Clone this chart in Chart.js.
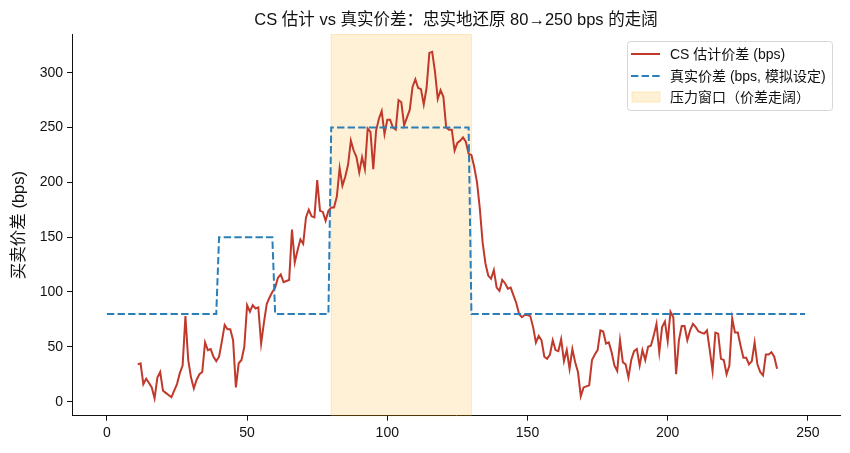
<!DOCTYPE html>
<html>
<head>
<meta charset="utf-8">
<script src="https://cdn.jsdelivr.net/npm/chart.js@4.4.1/dist/chart.umd.min.js"></script>
<style>
  html, body { margin: 0; padding: 0; background: #fff; }
  #wrap { width: 850px; height: 453px; }
</style>
</head>
<body>
<div id="wrap"><canvas id="chart" width="850" height="453"></canvas></div>
<script>
// CS estimate, one value per day starting at day 11
const csStart = 11;
const csValues = [
  34, 35, 16, 21, 17, 13, 3, 22, 27, 10,
  8, 6, 4, 10, 16, 26, 33, 78, 38, 22,
  12, 20, 25, 27, 54, 47, 48, 41, 37, 41,
  55, 70, 66, 66, 56, 13, 35, 38, 50, 88,
  82, 88, 85, 86, 53, 72, 89, 95, 100, 104,
  113, 116, 109, 110, 111, 157, 127, 138, 148, 144,
  168, 175, 169, 168, 202, 174, 173, 165, 174, 177,
  177, 187, 213, 197, 205, 216, 238, 229, 223, 209,
  223, 212, 249, 246, 212, 247, 258, 265, 244, 257,
  257, 250, 248, 275, 273, 252, 259, 266, 287, 294,
  286, 285, 271, 286, 318, 319, 301, 276, 284, 278,
  250, 248, 248, 229, 236, 238, 241, 237, 226, 225,
  214, 200, 176, 145, 126, 115, 112, 120, 104, 101,
  111, 108, 103, 104, 97, 90, 80, 77, 79, 79,
  78, 68, 54, 60, 56, 41, 39, 43, 56, 47,
  46, 57, 37, 47, 30, 48, 36, 27, 5, 13,
  14, 15, 38, 43, 47, 65, 64, 53, 54, 45,
  33, 28, 56, 36, 34, 22, 38, 46, 48, 33,
  47, 38, 50, 51, 60, 71, 45, 68, 73, 55,
  82, 77, 25, 56, 69, 69, 56, 65, 71, 68,
  64, 63, 62, 65, 47, 28, 63, 62, 39, 38,
  25, 33, 76, 63, 63, 51, 40, 40, 34, 37,
  54, 34, 27, 24, 43, 43, 45, 41, 30
];

// true spread (step), corner points only
const trueX = [0, 39, 40, 59, 60, 79, 80, 129, 130, 249];
const trueY = [80, 80, 150, 150, 80, 80, 250, 250, 80, 80];

// stress window
const windowStart = 80;
const windowEnd = 130;

const xTicks = [0, 50, 100, 150, 200, 250];
const yTicks = [0, 50, 100, 150, 200, 250, 300];

const labels = ['CS 估计价差 (bps)', '真实价差 (bps, 模拟设定)', '压力窗口（价差走阔）'];
const titleText = 'CS 估计 vs 真实价差：忠实地还原 80→250 bps 的走阔';

const FONT = '"Liberation Sans", "Noto Sans CJK SC", sans-serif';
const RED = '#c0392b';
const BLUE = '#2a7fb8';
const SHADE = 'rgba(255, 165, 0, 0.16)';

const csData = csValues.map((v, i) => ({ x: csStart + i, y: v }));
const trueData = trueX.map((x, i) => ({ x: x, y: trueY[i] }));

const shadePlugin = {
  id: 'shade',
  beforeDatasetsDraw(chart) {
    const { ctx, chartArea, scales } = chart;
    const x0 = scales.x.getPixelForValue(windowStart);
    const x1 = scales.x.getPixelForValue(windowEnd);
    ctx.save();
    ctx.fillStyle = SHADE;
    ctx.fillRect(x0, chartArea.top, x1 - x0, chartArea.bottom - chartArea.top);
    ctx.strokeStyle = 'rgba(255, 165, 0, 0.22)';
    ctx.lineWidth = 1;
    ctx.strokeRect(x0, chartArea.top, x1 - x0, chartArea.bottom - chartArea.top);
    ctx.restore();
  }
};

// title centred over the plot area, like matplotlib
const titlePlugin = {
  id: 'axTitle',
  afterDraw(chart) {
    const { ctx, chartArea } = chart;
    ctx.save();
    ctx.font = '16.5px ' + FONT;
    ctx.fillStyle = '#111';
    ctx.textAlign = 'center';
    ctx.textBaseline = 'middle';
    ctx.fillText(titleText, (chartArea.left + chartArea.right) / 2, 20);
    ctx.restore();
  }
};

// matplotlib-like legend box in the upper right
const legendPlugin = {
  id: 'mplLegend',
  afterDraw(chart) {
    const ctx = chart.ctx;
    const bx = 627, by = 41, bw = 205, bh = 69;
    ctx.save();
    ctx.beginPath();
    ctx.roundRect(bx + 0.5, by + 0.5, bw, bh, 3);
    ctx.fillStyle = 'rgba(255,255,255,0.8)';
    ctx.fill();
    ctx.strokeStyle = '#d6d6d6';
    ctx.lineWidth = 1;
    ctx.stroke();

    const rows = [54, 76, 97];
    ctx.font = '14px ' + FONT;
    ctx.textBaseline = 'middle';

    ctx.strokeStyle = RED;
    ctx.lineWidth = 2;
    ctx.beginPath();
    ctx.moveTo(631, rows[0]);
    ctx.lineTo(660, rows[0]);
    ctx.stroke();

    ctx.strokeStyle = BLUE;
    ctx.setLineDash([7.4, 3.2]);
    ctx.beginPath();
    ctx.moveTo(631, rows[1]);
    ctx.lineTo(660, rows[1]);
    ctx.stroke();
    ctx.setLineDash([]);

    ctx.fillStyle = SHADE;
    ctx.fillRect(632, rows[2] - 5, 28, 10);
    ctx.lineWidth = 1;
    ctx.strokeStyle = 'rgba(255, 165, 0, 0.22)';
    ctx.strokeRect(632, rows[2] - 5, 28, 10);

    ctx.fillStyle = '#111';
    labels.forEach((t, i) => ctx.fillText(t, 670, rows[i] + 1));
    ctx.restore();
  }
};

new Chart(document.getElementById('chart'), {
  type: 'line',
  data: {
    datasets: [
      {
        label: labels[0],
        data: csData,
        borderColor: RED,
        borderWidth: 2,
        pointRadius: 0,
        tension: 0,
        order: 2
      },
      {
        label: labels[1],
        data: trueData,
        borderColor: BLUE,
        borderWidth: 2,
        borderDash: [7.4, 3.2],
        pointRadius: 0,
        tension: 0,
        order: 1
      }
    ]
  },
  options: {
    responsive: false,
    animation: false,
    events: [],
    layout: { padding: { top: 34.5, right: 10, bottom: 0, left: 0 } },
    plugins: {
      legend: { display: false },
      tooltip: { enabled: false },
      title: { display: false }
    },
    scales: {
      x: {
        type: 'linear',
        min: -12.45,
        max: 261.45,
        afterBuildTicks: s => { s.ticks = xTicks.map(v => ({ value: v })); },
        afterFit: s => { s.height = 37.3; },
        grid: { display: true, drawOnChartArea: false, drawTicks: true, tickLength: 5, color: '#111' },
        border: { display: true, color: '#111', width: 1 },
        ticks: { color: '#111', padding: 4, maxRotation: 0, font: { family: FONT, size: 14 } }
      },
      y: {
        min: -12.8,
        max: 334.8,
        afterBuildTicks: s => { s.ticks = yTicks.map(v => ({ value: v })); },
        afterFit: s => { s.width = 72; },
        grid: { display: true, drawOnChartArea: false, drawTicks: true, tickLength: 5, color: '#111' },
        border: { display: true, color: '#111', width: 1 },
        ticks: { color: '#111', padding: 4, font: { family: FONT, size: 14 } },
        title: {
          display: true,
          text: '买卖价差 (bps)',
          color: '#111',
          font: { family: FONT, size: 16.5 },
          padding: { top: 10, bottom: 0 }
        }
      }
    }
  },
  plugins: [shadePlugin, titlePlugin, legendPlugin]
});
</script>
</body>
</html>
